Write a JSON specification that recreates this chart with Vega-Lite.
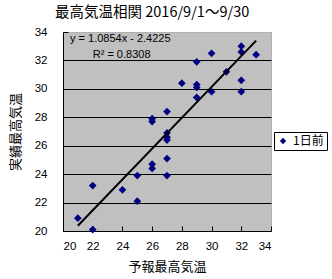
{
  "$schema": "https://vega.github.io/schema/vega-lite/v6.json",
  "width": 208,
  "height": 199,
  "autosize": {"type": "none"},
  "padding": {"left": 63, "top": 32, "right": 61, "bottom": 48},
  "background": "white",
  "title": {"text": "最高気温相関 2016/9/1～9/30", "anchor": "start", "frame": "group", "dx": -8, "offset": 6, "fontSize": 14.5, "font": "Noto Sans CJK JP", "fontWeight": "normal", "color": "black"},
  "config": {
    "view": {"fill": "#C0C0C0", "stroke": "#808080", "strokeDash": [1, 1]},
    "axis": {"domainColor": "black", "tickColor": "black", "labelColor": "black", "titleColor": "black", "labelFont": "Liberation Sans", "labelFontSize": 11.5, "labelOverlap": false, "titleFont": "Noto Sans CJK JP", "titleFontSize": 13, "titleFontWeight": "normal", "tickSize": -5},
    "legend": {"orient": "none", "legendX": 211, "legendY": 100, "strokeColor": "black", "fillColor": "white", "padding": 3, "symbolType": "diamond", "symbolSize": 40, "labelFont": "Noto Sans CJK JP", "labelFontSize": 12, "labelColor": "black", "title": null}
  },
  "datasets": {
    "pts": [
      {"forecast": 21, "actual": 20.9, "series": "1日前"},
      {"forecast": 22, "actual": 20.1, "series": "1日前"},
      {"forecast": 22, "actual": 23.2, "series": "1日前"},
      {"forecast": 24, "actual": 22.9, "series": "1日前"},
      {"forecast": 25, "actual": 22.1, "series": "1日前"},
      {"forecast": 25, "actual": 23.9, "series": "1日前"},
      {"forecast": 26, "actual": 24.4, "series": "1日前"},
      {"forecast": 26, "actual": 24.7, "series": "1日前"},
      {"forecast": 26, "actual": 27.7, "series": "1日前"},
      {"forecast": 26, "actual": 27.9, "series": "1日前"},
      {"forecast": 27, "actual": 23.9, "series": "1日前"},
      {"forecast": 27, "actual": 25.1, "series": "1日前"},
      {"forecast": 27, "actual": 26.4, "series": "1日前"},
      {"forecast": 27, "actual": 26.6, "series": "1日前"},
      {"forecast": 27, "actual": 26.9, "series": "1日前"},
      {"forecast": 27, "actual": 28.4, "series": "1日前"},
      {"forecast": 28, "actual": 30.4, "series": "1日前"},
      {"forecast": 29, "actual": 29.4, "series": "1日前"},
      {"forecast": 29, "actual": 30.1, "series": "1日前"},
      {"forecast": 29, "actual": 30.3, "series": "1日前"},
      {"forecast": 29, "actual": 31.9, "series": "1日前"},
      {"forecast": 30, "actual": 29.8, "series": "1日前"},
      {"forecast": 30, "actual": 32.5, "series": "1日前"},
      {"forecast": 31, "actual": 31.2, "series": "1日前"},
      {"forecast": 32, "actual": 29.8, "series": "1日前"},
      {"forecast": 32, "actual": 30.6, "series": "1日前"},
      {"forecast": 32, "actual": 32.6, "series": "1日前"},
      {"forecast": 32, "actual": 33.0, "series": "1日前"},
      {"forecast": 33, "actual": 32.4, "series": "1日前"}
    ],
    "trend": [
      {"forecast": 21, "actual": 20.37},
      {"forecast": 33, "actual": 33.39}
    ],
    "labels": [
      {"label": "y = 1.0854x - 2.4225", "forecast": 20.47, "actual": 33.5},
      {"label": "R² = 0.8308", "forecast": 22.0, "actual": 32.4}
    ]
  },
  "encoding": {
    "x": {"field": "forecast", "type": "quantitative", "scale": {"domain": [20, 34], "nice": false, "zero": false},
          "axis": {"values": [20, 22, 24, 26, 28, 30, 32, 34], "tickCount": 8, "grid": false, "title": "予報最高気温", "titlePadding": 9, "labelPadding": 14}},
    "y": {"field": "actual", "type": "quantitative", "scale": {"domain": [20, 34], "nice": false, "zero": false},
          "axis": {"values": [20, 22, 24, 26, 28, 30, 32, 34], "tickCount": 8, "grid": true, "gridColor": {"condition": {"test": "datum.value == 34 || datum.value == 20", "value": "transparent"}, "value": "black"}, "gridOpacity": 1, "title": "実績最高気温", "titlePadding": 12, "labelPadding": 21}}
  },
  "layer": [
    {
      "data": {"name": "pts"},
      "mark": {"type": "point", "shape": "diamond", "filled": true, "size": 60, "opacity": 1},
      "encoding": {
        "color": {"field": "series", "type": "nominal", "scale": {"range": ["#000080"]}}
      }
    },
    {
      "data": {"name": "trend"},
      "mark": {"type": "line", "color": "black", "strokeWidth": 2},
      "encoding": {}
    },
    {
      "data": {"name": "labels"},
      "mark": {"type": "text", "align": "left", "baseline": "middle", "font": "Liberation Sans", "fontSize": 11, "color": "black"},
      "encoding": {
        "text": {"field": "label"}
      }
    }
  ]
}
